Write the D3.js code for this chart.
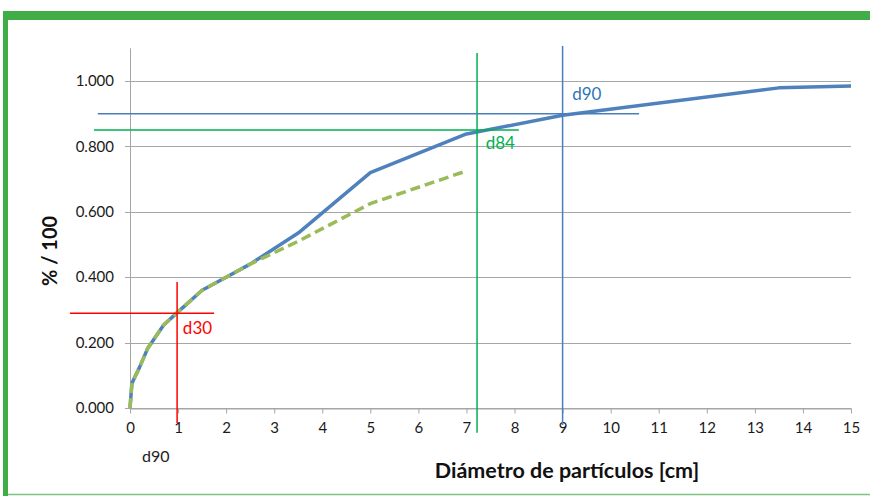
<!DOCTYPE html>
<html>
<head>
<meta charset="utf-8">
<script src="https://cdn.jsdelivr.net/npm/d3@7"></script>
<style>
  body { margin: 0; background: #fff; }
  svg { display: block; }
  text { font-family: Lato, "Open Sans", sans-serif; }
</style>
</head>
<body>
<svg id="chart" width="870" height="496"></svg>
<script>
// cumulative grain size curve (blue) and its shorter dashed twin (green)
var blueX = [0, 0.04, 0.2, 0.37, 0.7, 1.0, 1.5, 2.0, 2.5, 3.5, 5.0, 7.0, 9.0, 13.5, 15.0];
var blueY = [0, 0.076, 0.125, 0.183, 0.254, 0.294, 0.36, 0.40, 0.44, 0.535, 0.72, 0.838, 0.895, 0.979, 0.985];
var greenX = [0, 0.04, 0.2, 0.37, 0.7, 1.0, 1.5, 2.0, 2.5, 3.5, 5.0, 7.0];
var greenY = [0, 0.076, 0.125, 0.183, 0.254, 0.294, 0.36, 0.40, 0.44, 0.51, 0.625, 0.725];

var xTicks = d3.range(0, 16);
var yTicks = [0, 0.2, 0.4, 0.6, 0.8, 1.0];

// hand drawn marker lines, in data units: [x, y, horizontal from, to, vertical from, to]
var markers = [
  {name: "d30", color: "#ff0000", x: 0.98, y: 0.29, h: [-1.25, 1.75], v: [-0.046, 0.385]},
  {name: "d84", color: "#00b050", x: 7.22, y: 0.85, h: [-0.75, 8.09], v: [-0.076, 1.086]},
  {name: "d90", color: "#4a7ebb", x: 9.0, y: 0.90, h: [-0.67, 10.59], v: [-0.052, 1.107]}
];

var svg = d3.select("#chart");

// green frame
svg.append("rect").attr("x", 3).attr("y", 11).attr("width", 867).attr("height", 9).attr("fill", "#41ad49");
svg.append("rect").attr("x", 3).attr("y", 11).attr("width", 5).attr("height", 485).attr("fill", "#41ad49");
svg.append("line").attr("x1", 8).attr("x2", 870).attr("y1", 494.5).attr("y2", 494.5)
    .attr("stroke", "#7cc47f").attr("stroke-width", 1.5);

var x = d3.scaleLinear().domain([0, 15]).range([130, 851]);
var y = d3.scaleLinear().domain([0, 1.1]).range([408, 48.3]);

// gridlines
svg.append("g")
    .selectAll("line")
    .data(yTicks)
    .enter()
  .append("line")
    .attr("x1", 125).attr("x2", x(15))
    .attr("y1", function(d) {return Math.round(y(d)) + 0.5;})
    .attr("y2", function(d) {return Math.round(y(d)) + 0.5;})
    .attr("stroke", "#a6a6a6").attr("stroke-width", 1);

// y axis line
svg.append("line")
    .attr("x1", 130.5).attr("x2", 130.5)
    .attr("y1", y(1.1)).attr("y2", y(0))
    .attr("stroke", "#a6a6a6");

var xAxis = svg.append("g")
    .attr("transform", "translate(0," + (Math.round(y(0)) + 0.5) + ")")
    .call(d3.axisBottom(x).tickValues(xTicks).tickSize(5).tickSizeOuter(0).tickPadding(9));
xAxis.select(".domain").attr("stroke", "#a6a6a6");
xAxis.selectAll(".tick line").attr("stroke", "#a6a6a6");
xAxis.selectAll("text").attr("font-size", 15).attr("fill", "#1a1a1a").style("font-family", "Lato");

svg.append("g")
    .selectAll("text")
    .data(yTicks)
    .enter()
  .append("text")
    .attr("x", 114)
    .attr("y", function(d) {return y(d);})
    .attr("dy", "0.35em")
    .attr("text-anchor", "end")
    .attr("font-size", 15)
    .attr("fill", "#1a1a1a")
    .text(function(d) {return d3.format(".3f")(d);});

// curves
var line = d3.line()
    .x(function(d) {return x(d[0]);})
    .y(function(d) {return y(d[1]);});

svg.append("path")
    .datum(d3.zip(blueX, blueY))
    .attr("d", line)
    .attr("fill", "none")
    .attr("stroke", "#4f81bd")
    .attr("stroke-width", 3.5)
    .attr("stroke-linejoin", "round");

svg.append("path")
    .datum(d3.zip(greenX, greenY))
    .attr("d", line)
    .attr("fill", "none")
    .attr("stroke", "#9bbb59")
    .attr("stroke-width", 3.5)
    .attr("stroke-dasharray", "10,5");

// marker lines
var mk = svg.append("g").selectAll("g").data(markers).enter().append("g");
mk.append("line")
    .attr("x1", function(d) {return x(d.h[0]);})
    .attr("x2", function(d) {return x(d.h[1]);})
    .attr("y1", function(d) {return y(d.y);})
    .attr("y2", function(d) {return y(d.y);})
    .attr("stroke", function(d) {return d.color;})
    .attr("stroke-width", 1.5);
mk.append("line")
    .attr("x1", function(d) {return x(d.x);})
    .attr("x2", function(d) {return x(d.x);})
    .attr("y1", function(d) {return y(d.v[0]);})
    .attr("y2", function(d) {return y(d.v[1]);})
    .attr("stroke", function(d) {return d.color;})
    .attr("stroke-width", 1.5);

// marker labels
svg.append("text").attr("x", x(1.1)).attr("y", y(0.245)).attr("dy", "0.35em")
    .attr("font-size", 17).attr("fill", "#ff0000").text("d30");
svg.append("text").attr("x", x(7.4)).attr("y", y(0.81)).attr("dy", "0.35em")
    .attr("font-size", 17).attr("fill", "#00b050").text("d84");
svg.append("text").attr("x", x(9.2)).attr("y", y(0.96)).attr("dy", "0.35em")
    .attr("font-size", 17).attr("fill", "#2e75b6").text("d90");
svg.append("text").attr("x", 142).attr("y", 456).attr("dy", "0.35em")
    .attr("font-size", 16).attr("fill", "#222").text("d90");

// axis titles
svg.append("text")
    .attr("x", 567).attr("y", 470).attr("dy", "0.35em")
    .attr("text-anchor", "middle")
    .attr("font-size", 21.5).attr("font-weight", "bold").attr("fill", "#111")
    .text("Diámetro de partículos [cm]");

svg.append("text")
    .attr("transform", "translate(50,251) rotate(-90)")
    .attr("dy", "0.35em")
    .attr("text-anchor", "middle")
    .attr("font-size", 20).attr("font-weight", "bold").attr("fill", "#111")
    .text("% / 100");
</script>
</body>
</html>
